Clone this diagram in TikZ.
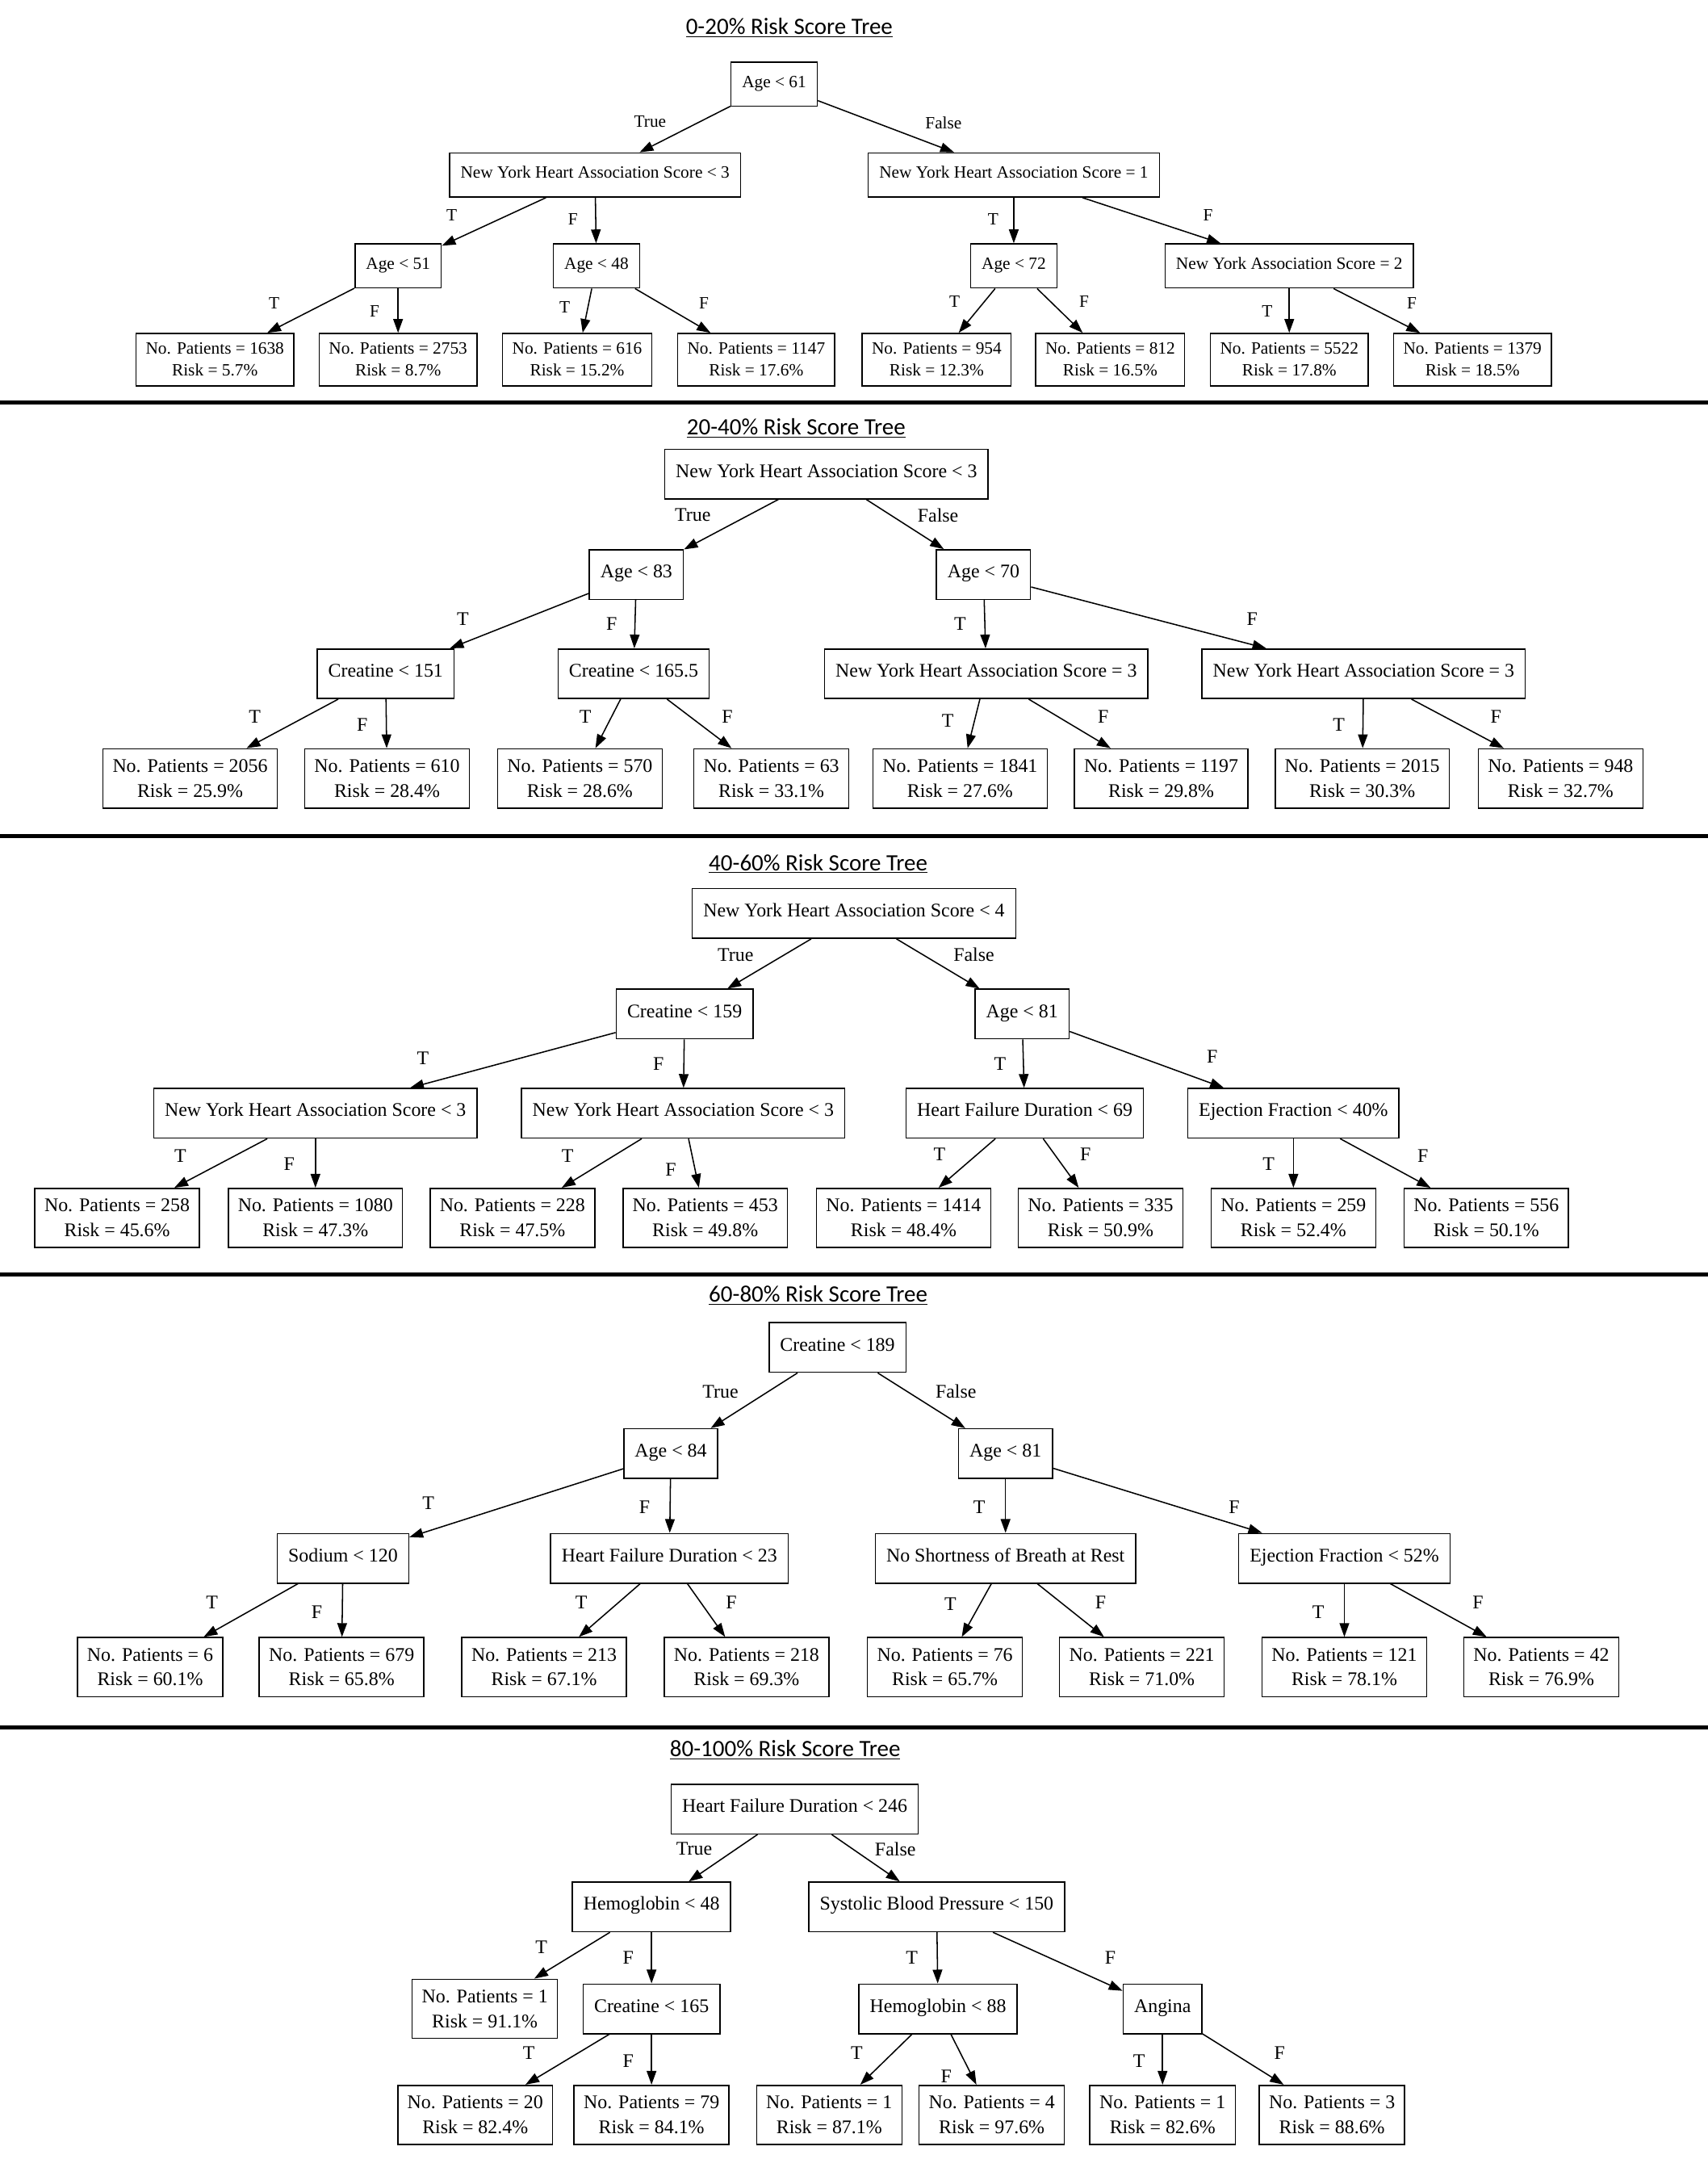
\documentclass[tikz,border=0pt]{standalone}
\usepackage{fontspec}
\setmainfont{Liberation Serif}
\newfontfamily\titlefont{Carlito}
\usepackage{tikz}
\usetikzlibrary{arrows.meta,positioning}

\tikzset{
  dec/.style={draw, line width=0.9pt, inner xsep=8pt, minimum height=36pt, text height=0.7em, text depth=0.22em},
  leaf/.style={draw, line width=0.9pt, inner xsep=7pt, minimum height=43pt, align=center},
  lbl/.style={inner sep=1pt},
  edge/.style={line width=0.9pt, -{Triangle[length=10pt,width=7pt]}},
  ttl/.style={font=\titlefont\fontsize{17}{20}\selectfont},
  sep/.style={line width=3pt}
}

\begin{document}
\begin{tikzpicture}[x=1pt, y=-1pt, font=\fontsize{14}{18}\selectfont]
\useasboundingbox (0,0) rectangle (1240,1567);

\draw[sep] (0,292) -- (1240,292);
\draw[sep] (0,607) -- (1240,607);
\draw[sep] (0,925) -- (1240,925);
\draw[sep] (0,1254) -- (1240,1254);

% 0-20%
\begin{scope}[font=\fontsize{12.5}{16}\selectfont, dec/.append style={minimum height=32pt}, leaf/.append style={minimum height=38pt}]
\node[ttl] (t1title) at (573,20) {\underline{0-20\% Risk Score Tree}};
\node[dec] (t1root) at (562,61) {Age < 61};
\node[dec] (t1T) at (432,127) {New York Heart Association Score < 3};
\node[dec] (t1F) at (736,127) {New York Heart Association Score = 1};
\node[dec] (t1TT) at (289,193) {Age < 51};
\node[dec] (t1TF) at (433,193) {Age < 48};
\node[dec] (t1FT) at (736,193) {Age < 72};
\node[dec] (t1FF) at (936,193) {New York Association Score = 2};
\node[leaf] (t1TTT) at (156,261) {No. Patients = 1638\\Risk = 5.7\%};
\node[leaf] (t1TTF) at (289,261) {No. Patients = 2753\\Risk = 8.7\%};
\node[leaf] (t1TFT) at (419,261) {No. Patients = 616\\Risk = 15.2\%};
\node[leaf] (t1TFF) at (549,261) {No. Patients = 1147\\Risk = 17.6\%};
\node[leaf] (t1FTT) at (680,261) {No. Patients = 954\\Risk = 12.3\%};
\node[leaf] (t1FTF) at (806,261) {No. Patients = 812\\Risk = 16.5\%};
\node[leaf] (t1FFT) at (936,261) {No. Patients = 5522\\Risk = 17.8\%};
\node[leaf] (t1FFF) at (1069,261) {No. Patients = 1379\\Risk = 18.5\%};
\draw[edge] (t1root) -- (t1T);
\draw[edge] (t1root) -- (t1F);
\draw[edge] (t1T) -- (t1TT);
\draw[edge] (t1T) -- (t1TF);
\draw[edge] (t1F) -- (t1FT);
\draw[edge] (t1F) -- (t1FF);
\draw[edge] (t1TT) -- (t1TTT);
\draw[edge] (t1TT) -- (t1TTF);
\draw[edge] (t1TF) -- (t1TFT);
\draw[edge] (t1TF) -- (t1TFF);
\draw[edge] (t1FT) -- (t1FTT);
\draw[edge] (t1FT) -- (t1FTF);
\draw[edge] (t1FF) -- (t1FFT);
\draw[edge] (t1FF) -- (t1FFF);
\node[lbl] (t1l1) at (472,88) {True};
\node[lbl] (t1l2) at (685,89) {False};
\node[lbl] (t1l3) at (328,156) {T};
\node[lbl] (t1l4) at (416,159) {F};
\node[lbl] (t1l5) at (721,159) {T};
\node[lbl] (t1l6) at (877,156) {F};
\node[lbl] (t1l7) at (199,220) {T};
\node[lbl] (t1l8) at (272,226) {F};
\node[lbl] (t1l9) at (410,223) {T};
\node[lbl] (t1l10) at (511,220) {F};
\node[lbl] (t1l11) at (693,219) {T};
\node[lbl] (t1l12) at (787,219) {F};
\node[lbl] (t1l13) at (920,226) {T};
\node[lbl] (t1l14) at (1025,220) {F};
\end{scope}

% 20-40%
\node[ttl] (t2title) at (578,311) {\underline{20-40\% Risk Score Tree}};
\node[dec] (t2root) at (600,344) {New York Heart Association Score < 3};
\node[dec] (t2T) at (462,417) {Age < 83};
\node[dec] (t2F) at (714,417) {Age < 70};
\node[dec] (t2TT) at (280,489) {Creatine < 151};
\node[dec] (t2TF) at (460,489) {Creatine < 165.5};
\node[dec] (t2FT) at (716,489) {New York Heart Association Score = 3};
\node[dec] (t2FF) at (990,489) {New York Heart Association Score = 3};
\node[leaf] (t2TTT) at (138,565) {No. Patients = 2056\\Risk = 25.9\%};
\node[leaf] (t2TTF) at (281,565) {No. Patients = 610\\Risk = 28.4\%};
\node[leaf] (t2TFT) at (421,565) {No. Patients = 570\\Risk = 28.6\%};
\node[leaf] (t2TFF) at (560,565) {No. Patients = 63\\Risk = 33.1\%};
\node[leaf] (t2FTT) at (697,565) {No. Patients = 1841\\Risk = 27.6\%};
\node[leaf] (t2FTF) at (843,565) {No. Patients = 1197\\Risk = 29.8\%};
\node[leaf] (t2FFT) at (989,565) {No. Patients = 2015\\Risk = 30.3\%};
\node[leaf] (t2FFF) at (1133,565) {No. Patients = 948\\Risk = 32.7\%};
\draw[edge] (t2root) -- (t2T);
\draw[edge] (t2root) -- (t2F);
\draw[edge] (t2T) -- (t2TT);
\draw[edge] (t2T) -- (t2TF);
\draw[edge] (t2F) -- (t2FT);
\draw[edge] (t2F) -- (t2FF);
\draw[edge] (t2TT) -- (t2TTT);
\draw[edge] (t2TT) -- (t2TTF);
\draw[edge] (t2TF) -- (t2TFT);
\draw[edge] (t2TF) -- (t2TFF);
\draw[edge] (t2FT) -- (t2FTT);
\draw[edge] (t2FT) -- (t2FTF);
\draw[edge] (t2FF) -- (t2FFT);
\draw[edge] (t2FF) -- (t2FFF);
\node[lbl] (t2l1) at (503,374) {True};
\node[lbl] (t2l2) at (681,374) {False};
\node[lbl] (t2l3) at (336,449) {T};
\node[lbl] (t2l4) at (444,453) {F};
\node[lbl] (t2l5) at (697,453) {T};
\node[lbl] (t2l6) at (909,449) {F};
\node[lbl] (t2l7) at (185,520) {T};
\node[lbl] (t2l8) at (263,526) {F};
\node[lbl] (t2l9) at (425,520) {T};
\node[lbl] (t2l10) at (528,520) {F};
\node[lbl] (t2l11) at (688,523) {T};
\node[lbl] (t2l12) at (801,520) {F};
\node[lbl] (t2l13) at (972,526) {T};
\node[lbl] (t2l14) at (1086,520) {F};

% 40-60%
\node[ttl] (t3title) at (594,627) {\underline{40-60\% Risk Score Tree}};
\node[dec] (t3root) at (620,663) {New York Heart Association Score < 4};
\node[dec] (t3T) at (497,736) {Creatine < 159};
\node[dec] (t3F) at (742,736) {Age < 81};
\node[dec] (t3TT) at (229,808) {New York Heart Association Score < 3};
\node[dec] (t3TF) at (496,808) {New York Heart Association Score < 3};
\node[dec] (t3FT) at (744,808) {Heart Failure Duration < 69};
\node[dec] (t3FF) at (939,808) {Ejection Fraction < 40\%};
\node[leaf] (t3TTT) at (85,884) {No. Patients = 258\\Risk = 45.6\%};
\node[leaf] (t3TTF) at (229,884) {No. Patients = 1080\\Risk = 47.3\%};
\node[leaf] (t3TFT) at (372,884) {No. Patients = 228\\Risk = 47.5\%};
\node[leaf] (t3TFF) at (512,884) {No. Patients = 453\\Risk = 49.8\%};
\node[leaf] (t3FTT) at (656,884) {No. Patients = 1414\\Risk = 48.4\%};
\node[leaf] (t3FTF) at (799,884) {No. Patients = 335\\Risk = 50.9\%};
\node[leaf] (t3FFT) at (939,884) {No. Patients = 259\\Risk = 52.4\%};
\node[leaf] (t3FFF) at (1079,884) {No. Patients = 556\\Risk = 50.1\%};
\draw[edge] (t3root) -- (t3T);
\draw[edge] (t3root) -- (t3F);
\draw[edge] (t3T) -- (t3TT);
\draw[edge] (t3T) -- (t3TF);
\draw[edge] (t3F) -- (t3FT);
\draw[edge] (t3F) -- (t3FF);
\draw[edge] (t3TT) -- (t3TTT);
\draw[edge] (t3TT) -- (t3TTF);
\draw[edge] (t3TF) -- (t3TFT);
\draw[edge] (t3TF) -- (t3TFF);
\draw[edge] (t3FT) -- (t3FTT);
\draw[edge] (t3FT) -- (t3FTF);
\draw[edge] (t3FF) -- (t3FFT);
\draw[edge] (t3FF) -- (t3FFF);
\node[lbl] (t3l1) at (534,693) {True};
\node[lbl] (t3l2) at (707,693) {False};
\node[lbl] (t3l3) at (307,768) {T};
\node[lbl] (t3l4) at (478,772) {F};
\node[lbl] (t3l5) at (726,772) {T};
\node[lbl] (t3l6) at (880,767) {F};
\node[lbl] (t3l7) at (131,839) {T};
\node[lbl] (t3l8) at (210,845) {F};
\node[lbl] (t3l9) at (412,839) {T};
\node[lbl] (t3l10) at (487,849) {F};
\node[lbl] (t3l11) at (682,838) {T};
\node[lbl] (t3l12) at (788,838) {F};
\node[lbl] (t3l13) at (921,845) {T};
\node[lbl] (t3l14) at (1033,839) {F};

% 60-80%
\node[ttl] (t4title) at (594,940) {\underline{60-80\% Risk Score Tree}};
\node[dec] (t4root) at (608,978) {Creatine < 189};
\node[dec] (t4T) at (487,1055) {Age < 84};
\node[dec] (t4F) at (730,1055) {Age < 81};
\node[dec] (t4TT) at (249,1131) {Sodium < 120};
\node[dec] (t4TF) at (486,1131) {Heart Failure Duration < 23};
\node[dec] (t4FT) at (730,1131) {No Shortness of Breath at Rest};
\node[dec] (t4FF) at (976,1131) {Ejection Fraction < 52\%};
\node[leaf] (t4TTT) at (109,1210) {No. Patients = 6\\Risk = 60.1\%};
\node[leaf] (t4TTF) at (248,1210) {No. Patients = 679\\Risk = 65.8\%};
\node[leaf] (t4TFT) at (395,1210) {No. Patients = 213\\Risk = 67.1\%};
\node[leaf] (t4TFF) at (542,1210) {No. Patients = 218\\Risk = 69.3\%};
\node[leaf] (t4FTT) at (686,1210) {No. Patients = 76\\Risk = 65.7\%};
\node[leaf] (t4FTF) at (829,1210) {No. Patients = 221\\Risk = 71.0\%};
\node[leaf] (t4FFT) at (976,1210) {No. Patients = 121\\Risk = 78.1\%};
\node[leaf] (t4FFF) at (1119,1210) {No. Patients = 42\\Risk = 76.9\%};
\draw[edge] (t4root) -- (t4T);
\draw[edge] (t4root) -- (t4F);
\draw[edge] (t4T) -- (t4TT);
\draw[edge] (t4T) -- (t4TF);
\draw[edge] (t4F) -- (t4FT);
\draw[edge] (t4F) -- (t4FF);
\draw[edge] (t4TT) -- (t4TTT);
\draw[edge] (t4TT) -- (t4TTF);
\draw[edge] (t4TF) -- (t4TFT);
\draw[edge] (t4TF) -- (t4TFF);
\draw[edge] (t4FT) -- (t4FTT);
\draw[edge] (t4FT) -- (t4FTF);
\draw[edge] (t4FF) -- (t4FFT);
\draw[edge] (t4FF) -- (t4FFF);
\node[lbl] (t4l1) at (523,1010) {True};
\node[lbl] (t4l2) at (694,1010) {False};
\node[lbl] (t4l3) at (311,1091) {T};
\node[lbl] (t4l4) at (468,1094) {F};
\node[lbl] (t4l5) at (711,1094) {T};
\node[lbl] (t4l6) at (896,1094) {F};
\node[lbl] (t4l7) at (154,1163) {T};
\node[lbl] (t4l8) at (230,1170) {F};
\node[lbl] (t4l9) at (422,1163) {T};
\node[lbl] (t4l10) at (531,1163) {F};
\node[lbl] (t4l11) at (690,1164) {T};
\node[lbl] (t4l12) at (799,1163) {F};
\node[lbl] (t4l13) at (957,1170) {T};
\node[lbl] (t4l14) at (1073,1163) {F};

% 80-100%
\node[ttl] (t5title) at (570,1270) {\underline{80-100\% Risk Score Tree}};
\node[dec] (t5root) at (577,1313) {Heart Failure Duration < 246};
\node[dec] (t5T) at (473,1384) {Hemoglobin < 48};
\node[dec] (t5F) at (680,1384) {Systolic Blood Pressure < 150};
\node[leaf] (t5TT) at (352,1458) {No. Patients = 1\\Risk = 91.1\%};
\node[dec] (t5TF) at (473,1458) {Creatine < 165};
\node[dec] (t5FT) at (681,1458) {Hemoglobin < 88};
\node[dec] (t5FF) at (844,1458) {Angina};
\node[leaf] (t5TFT) at (345,1535) {No. Patients = 20\\Risk = 82.4\%};
\node[leaf] (t5TFF) at (473,1535) {No. Patients = 79\\Risk = 84.1\%};
\node[leaf] (t5FTT) at (602,1535) {No. Patients = 1\\Risk = 87.1\%};
\node[leaf] (t5FTF) at (720,1535) {No. Patients = 4\\Risk = 97.6\%};
\node[leaf] (t5FFT) at (844,1535) {No. Patients = 1\\Risk = 82.6\%};
\node[leaf] (t5FFF) at (967,1535) {No. Patients = 3\\Risk = 88.6\%};
\draw[edge] (t5root) -- (t5T);
\draw[edge] (t5root) -- (t5F);
\draw[edge] (t5T) -- (t5TT);
\draw[edge] (t5T) -- (t5TF);
\draw[edge] (t5F) -- (t5FT);
\draw[edge] (t5F) -- (t5FF);
\draw[edge] (t5TF) -- (t5TFT);
\draw[edge] (t5TF) -- (t5TFF);
\draw[edge] (t5FT) -- (t5FTT);
\draw[edge] (t5FT) -- (t5FTF);
\draw[edge] (t5FF) -- (t5FFT);
\draw[edge] (t5FF) -- (t5FFF);
\node[lbl] (t5l1) at (504,1342) {True};
\node[lbl] (t5l2) at (650,1342) {False};
\node[lbl] (t5l3) at (393,1413) {T};
\node[lbl] (t5l4) at (456,1421) {F};
\node[lbl] (t5l5) at (662,1421) {T};
\node[lbl] (t5l6) at (806,1421) {F};
\node[lbl] (t5l7) at (384,1490) {T};
\node[lbl] (t5l8) at (456,1496) {F};
\node[lbl] (t5l9) at (622,1490) {T};
\node[lbl] (t5l10) at (687,1507) {F};
\node[lbl] (t5l11) at (827,1496) {T};
\node[lbl] (t5l12) at (929,1490) {F};
\end{tikzpicture}
\end{document}
